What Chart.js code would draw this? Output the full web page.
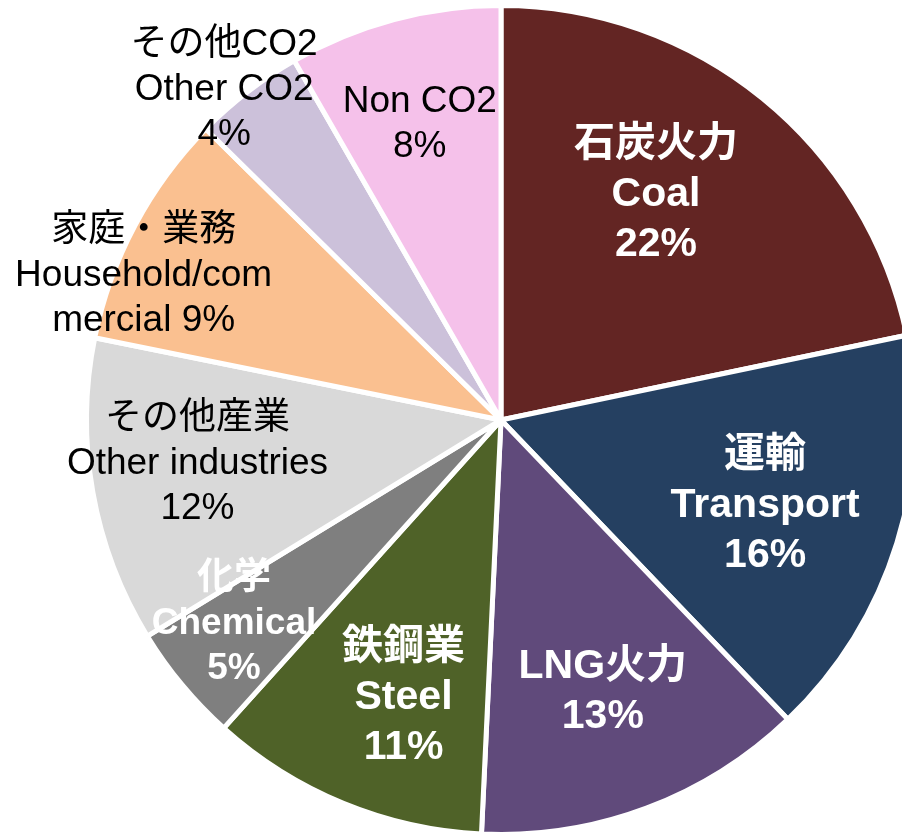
<!DOCTYPE html>
<html>
<head>
<meta charset="utf-8">
<script src="https://cdn.jsdelivr.net/npm/chart.js@4/dist/chart.umd.min.js"></script>
<style>
  html, body { margin: 0; padding: 0; background: #fff; overflow: hidden; }
  #wrap { position: relative; width: 1002px; height: 840px; }
</style>
</head>
<body>
<div id="wrap"><canvas id="pie"></canvas></div>
<script>
// shares (%), clockwise from 12 o'clock
const jpNames = ["石炭火力", "運輸", "LNG火力", "鉄鋼業", "化学", "その他産業", "家庭・業務", "その他CO2", ""]
const enNames = ["Coal", "Transport", "", "Steel", "Chemical", "Other industries", "Household/commercial", "Other CO2", "Non CO2"]
const shares = [21.7, 16.1, 12.9, 10.9, 4.6, 11.9, 9.2, 4.3, 8.3]
const pctLabels = ["22%", "16%", "13%", "11%", "5%", "12%", "9%", "4%", "8%"]
const colors = ["#632523", "#254061", "#604A7B", "#4F6228", "#7F7F7F", "#D9D9D9", "#FAC090", "#CCC1DA", "#F5C1EA"]

// label text lines, placement (fraction of radius, angle nudge in deg) and look
const labelLines = [
    [jpNames[0], enNames[0], pctLabels[0]],
    [jpNames[1], enNames[1], pctLabels[1]],
    [jpNames[2], pctLabels[2]],
    [jpNames[3], enNames[3], pctLabels[3]],
    [jpNames[4], enNames[4], pctLabels[4]],
    [jpNames[5], enNames[5], pctLabels[5]],
    [jpNames[6], "Household/com", "mercial " + pctLabels[6]],
    [jpNames[7], enNames[7], pctLabels[7]],
    [enNames[8], pctLabels[8]],
]
const labelRadius = [0.66, 0.67, 0.70, 0.71, 0.81, 0.74, 0.93, 1.04, 0.74]
const labelNudge = [-4.6, 0.8, 0, -3, 2.4, 1.7, -6, -2.3, -0.4]
const labelBold = [true, true, true, true, true, false, false, false, false]

const FONT = '"Liberation Sans", Arial, "Noto Sans CJK JP", sans-serif'

const sliceLabels = {
    id: "sliceLabels",
    afterDatasetsDraw(chart){
        const ctx = chart.ctx
        const arcs = chart.getDatasetMeta(0).data
        ctx.save()
        ctx.textAlign = "center"
        ctx.textBaseline = "middle"
        arcs.forEach((arc, i) => {
            const mid = (arc.startAngle + arc.endAngle) / 2 + labelNudge[i] * Math.PI / 180
            const r = arc.outerRadius * labelRadius[i]
            const x = arc.x + Math.cos(mid) * r
            const y = arc.y + Math.sin(mid) * r
            const bold = labelBold[i]
            const size = i === 4 ? 37 : (bold ? 41 : 37)
            const lh = bold ? (i === 4 ? 45 : 50) : 45
            ctx.font = (bold ? "bold " : "") + size + "px " + FONT
            ctx.fillStyle = bold ? "#ffffff" : "#000000"
            const lines = labelLines[i]
            const top = y - (lines.length - 1) * lh / 2
            lines.forEach((t, k) => ctx.fillText(t, x, top + k * lh))
        })
        ctx.restore()
    }
}

new Chart(document.getElementById("pie").getContext("2d"), {
    type: "pie",
    data: {
        labels: jpNames.map((j, i) => (j + " " + enNames[i]).trim()),
        datasets: [{
            data: shares,
            backgroundColor: colors,
            borderColor: "#ffffff",
            borderWidth: 5,
        }]
    },
    options: {
        responsive: true,
        maintainAspectRatio: false,
        animation: false,
        events: [],
        layout: { padding: { top: 3, bottom: 3 } },
        plugins: {
            legend: { display: false },
            tooltip: { enabled: false },
        }
    },
    plugins: [sliceLabels]
})
</script>
</body>
</html>
